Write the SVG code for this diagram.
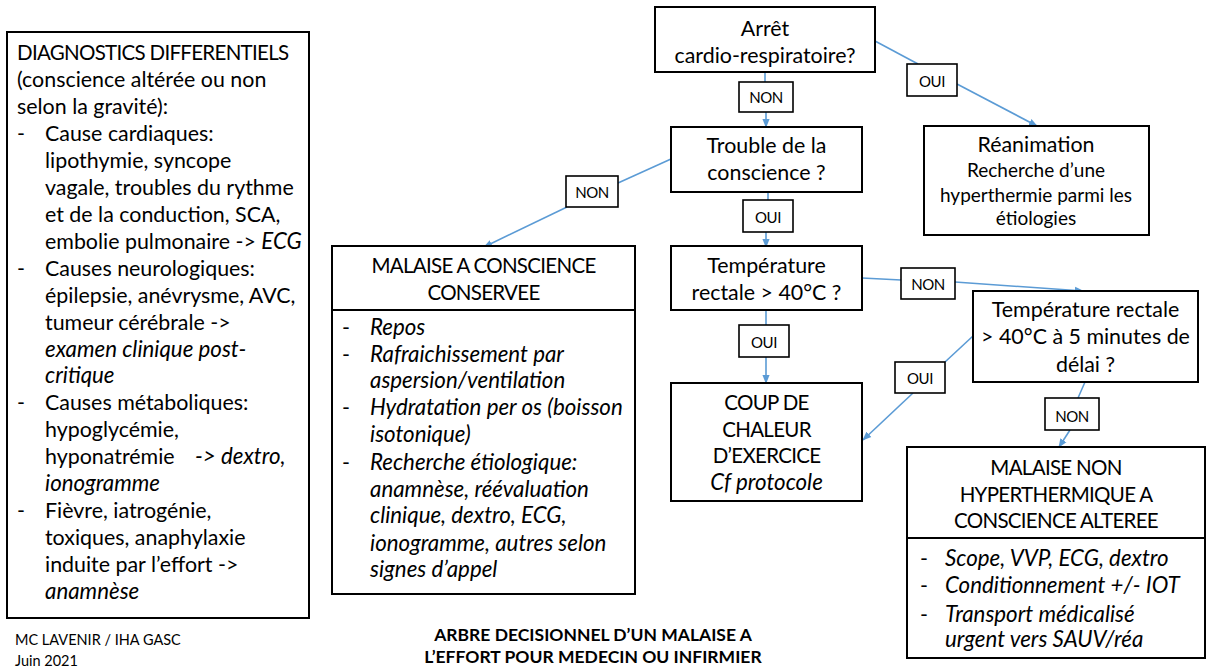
<svg xmlns="http://www.w3.org/2000/svg" width="1207" height="670" viewBox="0 0 1207 670">
<defs>
<marker id="arr" viewBox="0 0 10 10" refX="9" refY="5" markerWidth="9" markerHeight="9" markerUnits="userSpaceOnUse" orient="auto">
<path d="M0,1 L10,5 L0,9 Z" fill="#5B9BD5"/>
</marker>
<style>
text{font-family:Lato,"Liberation Sans",sans-serif;fill:#000}
.box{fill:#fff;stroke:#000;stroke-width:2}
.lbl{fill:#fff;stroke:#000;stroke-width:1.6}
.t{font-size:21.4px}
.u{font-size:20.5px;letter-spacing:-0.7px}
.s{font-size:19px}
.l{font-size:15px;letter-spacing:-0.4px}
.c{text-anchor:middle}
.i{font-style:italic;font-size:22.3px}
.f{font-size:14.5px}
.h{font-size:17.5px;font-weight:bold}
.ln{fill:none;stroke:#5B9BD5;stroke-width:1.6}
.ar{fill:none;stroke:#5B9BD5;stroke-width:1.6;marker-end:url(#arr)}
</style>
</defs>
<rect width="1207" height="670" fill="#fff"/>

<g id="connectors">
<line class="ln" x1="765" y1="72" x2="765" y2="82"/>
<line class="ar" x1="766" y1="112" x2="766" y2="127"/>
<line class="ln" x1="875" y1="41" x2="918" y2="64"/>
<line class="ar" x1="957" y1="84" x2="1037" y2="126"/>
<line class="ln" x1="671" y1="159" x2="618" y2="183"/>
<line class="ar" x1="567" y1="207" x2="484" y2="247"/>
<line class="ln" x1="768" y1="192" x2="768" y2="200"/>
<line class="ar" x1="766" y1="232" x2="766" y2="247"/>
<line class="ln" x1="862" y1="278" x2="901" y2="280"/>
<line class="ar" x1="955" y1="282" x2="1083" y2="291"/>
<line class="ln" x1="766" y1="310" x2="766" y2="325"/>
<line class="ar" x1="766" y1="357" x2="766" y2="383"/>
<line class="ln" x1="973" y1="336" x2="945" y2="362"/>
<line class="ar" x1="913" y1="393" x2="863" y2="440"/>
<line class="ln" x1="1085" y1="382" x2="1078" y2="398"/>
<line class="ar" x1="1070" y1="430" x2="1059" y2="447"/>
</g>

<g id="labels">
<rect class="lbl" x="739" y="82" width="54" height="30"/><text class="l c" x="766" y="103">NON</text>
<rect class="lbl" x="907" y="64" width="50" height="32"/><text class="l c" x="932" y="87">OUI</text>
<rect class="lbl" x="566" y="176" width="52" height="31"/><text class="l c" x="592" y="198">NON</text>
<rect class="lbl" x="743" y="200" width="50" height="32"/><text class="l c" x="768" y="223">OUI</text>
<rect class="lbl" x="901" y="268" width="54" height="31"/><text class="l c" x="928" y="290">NON</text>
<rect class="lbl" x="739" y="325" width="50" height="32"/><text class="l c" x="764" y="348">OUI</text>
<rect class="lbl" x="895" y="362" width="50" height="31"/><text class="l c" x="920" y="384">OUI</text>
<rect class="lbl" x="1045" y="398" width="54" height="32"/><text class="l c" x="1072" y="422">NON</text>
</g>

<g id="diag">
<rect class="box" x="7" y="32" width="302" height="586"/>
<text class="t" x="17">
<tspan class="u" x="17" y="60">DIAGNOSTICS DIFFERENTIELS</tspan>
<tspan x="17" y="87">(conscience altérée ou non</tspan>
<tspan x="17" y="114">selon la gravité):</tspan>
<tspan x="17" y="141">-</tspan><tspan x="45" y="141">Cause cardiaques:</tspan>
<tspan x="45" y="168">lipothymie, syncope</tspan>
<tspan x="45" y="195">vagale, troubles du rythme</tspan>
<tspan x="45" y="222">et de la conduction, SCA,</tspan>
<tspan x="45" y="249">embolie pulmonaire -&gt; </tspan><tspan class="i">ECG</tspan>
<tspan x="17" y="276">-</tspan><tspan x="45" y="276">Causes neurologiques:</tspan>
<tspan x="45" y="303">épilepsie, anévrysme, AVC,</tspan>
<tspan x="45" y="330">tumeur cérébrale -&gt;</tspan>
<tspan class="i" x="45" y="357">examen clinique post-</tspan>
<tspan class="i" x="45" y="383">critique</tspan>
<tspan x="17" y="410">-</tspan><tspan x="45" y="410">Causes métaboliques:</tspan>
<tspan x="45" y="437">hypoglycémie,</tspan>
<tspan x="45" y="464">hyponatrémie</tspan><tspan class="i" x="195" y="464">-&gt; dextro,</tspan>
<tspan class="i" x="45" y="491">ionogramme</tspan>
<tspan x="17" y="518">-</tspan><tspan x="45" y="518">Fièvre, iatrogénie,</tspan>
<tspan x="45" y="545">toxiques, anaphylaxie</tspan>
<tspan x="45" y="572">induite par l’effort -&gt;</tspan>
<tspan class="i" x="45" y="599">anamnèse</tspan>
</text>
</g>

<g id="footer">
<text class="f" x="15" y="645">MC LAVENIR / IHA GASC</text>
<text class="f" x="15" y="666">Juin 2021</text>
<text class="h c" x="593" y="641">ARBRE DECISIONNEL D’UN MALAISE A</text>
<text class="h c" x="593" y="663">L’EFFORT POUR MEDECIN OU INFIRMIER</text>
</g>

<g id="arret">
<rect class="box" x="655" y="7" width="220" height="65"/>
<text class="t c" x="765" y="36">Arrêt</text>
<text class="t c" x="765" y="63">cardio-respiratoire?</text>
</g>

<g id="reanimation">
<rect class="box" x="924" y="126" width="225" height="109"/>
<text class="t c" x="1036" y="152">Réanimation</text>
<text class="s c" x="1036" y="177">Recherche d’une</text>
<text class="s c" x="1036" y="202">hyperthermie parmi les</text>
<text class="s c" x="1036" y="225">étiologies</text>
</g>

<g id="trouble">
<rect class="box" x="671" y="127" width="191" height="65"/>
<text class="t c" x="766.5" y="153">Trouble de la</text>
<text class="t c" x="766.5" y="180">conscience ?</text>
</g>

<g id="temperature">
<rect class="box" x="671" y="246" width="191" height="64"/>
<text class="t c" x="766.5" y="273">Température</text>
<text class="t c" x="766.5" y="300">rectale &gt; 40°C ?</text>
</g>

<g id="coup">
<rect class="box" x="671" y="383" width="191" height="118"/>
<text class="u c" x="766.5" y="410">COUP DE</text>
<text class="u c" x="766.5" y="437">CHALEUR</text>
<text class="u c" x="766.5" y="463">D’EXERCICE</text>
<text class="i c" x="766.5" y="490">Cf protocole</text>
</g>

<g id="temperature5">
<rect class="box" x="973" y="291" width="225" height="91"/>
<text class="t c" x="1085.5" y="317">Température rectale</text>
<text class="t c" x="1085.5" y="344">&gt; 40°C à 5 minutes de</text>
<text class="t c" x="1085.5" y="372">délai ?</text>
</g>

<g id="conserve">
<rect class="box" x="332" y="246" width="303" height="348"/>
<line x1="332" y1="310" x2="635" y2="310" stroke="#000" stroke-width="2"/>
<text class="u c" x="483.5" y="273">MALAISE A CONSCIENCE</text>
<text class="u c" x="483.5" y="300">CONSERVEE</text>
<text class="t">
<tspan x="342" y="335">-</tspan><tspan class="i" x="370" y="335">Repos</tspan>
<tspan x="342" y="362">-</tspan><tspan class="i" x="370" y="362">Rafraichissement par</tspan>
<tspan class="i" x="370" y="388">aspersion/ventilation</tspan>
<tspan x="342" y="415">-</tspan><tspan class="i" x="370" y="415">Hydratation per os (boisson</tspan>
<tspan class="i" x="370" y="442">isotonique)</tspan>
<tspan x="342" y="470">-</tspan><tspan class="i" x="370" y="470">Recherche étiologique:</tspan>
<tspan class="i" x="370" y="497">anamnèse, réévaluation</tspan>
<tspan class="i" x="370" y="523">clinique, dextro, ECG,</tspan>
<tspan class="i" x="370" y="551">ionogramme, autres selon</tspan>
<tspan class="i" x="370" y="577">signes d’appel</tspan>
</text>
</g>

<g id="nonhyper">
<rect class="box" x="907" y="447" width="298" height="211"/>
<line x1="907" y1="538" x2="1205" y2="538" stroke="#000" stroke-width="2"/>
<text class="u c" x="1056" y="475">MALAISE NON</text>
<text class="u c" x="1056" y="502">HYPERTHERMIQUE A</text>
<text class="u c" x="1056" y="528">CONSCIENCE ALTEREE</text>
<text class="t">
<tspan x="920" y="566">-</tspan><tspan class="i" x="945" y="566">Scope, VVP, ECG, dextro</tspan>
<tspan x="920" y="593">-</tspan><tspan class="i" x="945" y="593">Conditionnement +/- IOT</tspan>
<tspan x="920" y="622">-</tspan><tspan class="i" x="945" y="622">Transport médicalisé</tspan>
<tspan class="i" x="945" y="647">urgent vers SAUV/réa</tspan>
</text>
</g>
</svg>
